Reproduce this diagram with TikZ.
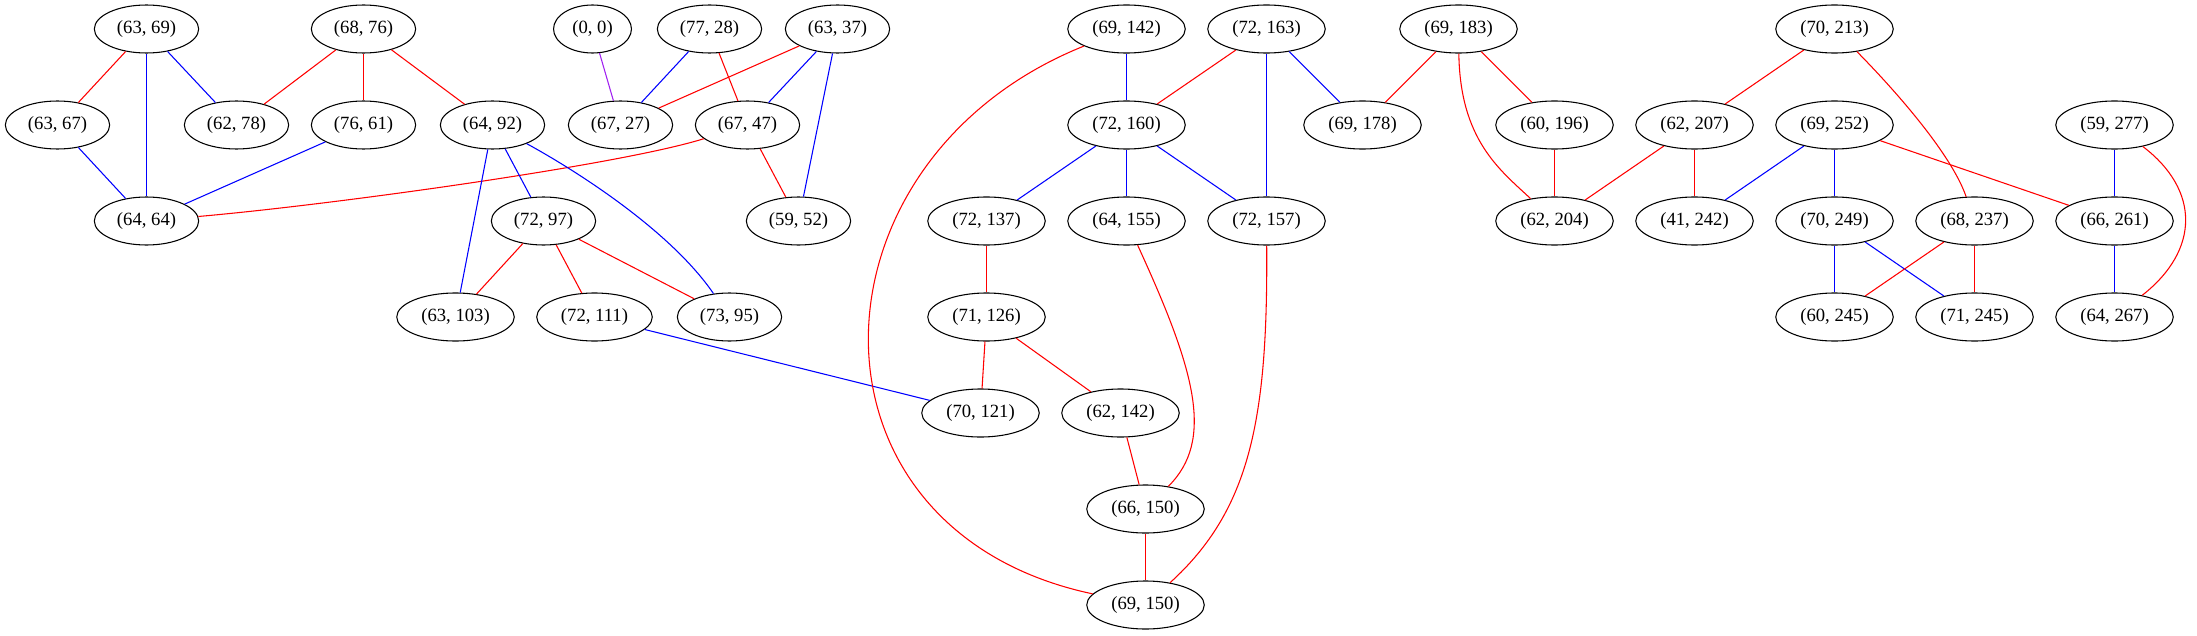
\documentclass[tikz,border=0pt]{standalone}
\usepackage{fontspec}
\setmainfont{Liberation Serif}
\usetikzlibrary{shapes.geometric}
\definecolor{gvpurple}{HTML}{A020F0}

\begin{document}
\begin{tikzpicture}[x=0.75pt,y=-0.75pt,
    vert/.style={ellipse, draw, line width=0.8pt, minimum height=36pt, inner xsep=5.5pt, font=\fontsize{14}{16}\selectfont},
    redge/.style={line width=0.8pt, red},
    bedge/.style={line width=0.8pt, blue},
    pedge/.style={line width=0.8pt, gvpurple}]
                \useasboundingbox (0,0) rectangle (2197,635);
                \node[vert] (n63x69) at (146.5,29) {(63, 69)};
                \node[vert] (n68x76) at (363.5,29) {(68, 76)};
                \node[vert] (n0x0) at (592.5,29) {(0, 0)};
                \node[vert] (n77x28) at (709.5,29) {(77, 28)};
                \node[vert] (n63x37) at (837.5,29) {(63, 37)};
                \node[vert] (n69x142) at (1126.5,29) {(69, 142)};
                \node[vert] (n72x163) at (1266.5,29) {(72, 163)};
                \node[vert] (n69x183) at (1458.5,29) {(69, 183)};
                \node[vert] (n70x213) at (1834.5,29) {(70, 213)};
                \node[vert] (n63x67) at (57.5,125) {(63, 67)};
                \node[vert] (n62x78) at (236.5,125) {(62, 78)};
                \node[vert] (n76x61) at (363.5,125) {(76, 61)};
                \node[vert] (n64x92) at (492.5,125) {(64, 92)};
                \node[vert] (n67x27) at (620.5,125) {(67, 27)};
                \node[vert] (n67x47) at (747.5,125) {(67, 47)};
                \node[vert] (n72x160) at (1126.5,125) {(72, 160)};
                \node[vert] (n69x178) at (1362.5,125) {(69, 178)};
                \node[vert] (n60x196) at (1554.5,125) {(60, 196)};
                \node[vert] (n62x207) at (1694.5,125) {(62, 207)};
                \node[vert] (n69x252) at (1834.5,125) {(69, 252)};
                \node[vert] (n59x277) at (2114.5,125) {(59, 277)};
                \node[vert] (n64x64) at (146.5,221) {(64, 64)};
                \node[vert] (n72x97) at (543.5,221) {(72, 97)};
                \node[vert] (n59x52) at (798.5,221) {(59, 52)};
                \node[vert] (n72x137) at (986.5,221) {(72, 137)};
                \node[vert] (n64x155) at (1126.5,221) {(64, 155)};
                \node[vert] (n72x157) at (1266.5,221) {(72, 157)};
                \node[vert] (n62x204) at (1554.5,221) {(62, 204)};
                \node[vert] (n41x242) at (1694.5,221) {(41, 242)};
                \node[vert] (n70x249) at (1834.5,221) {(70, 249)};
                \node[vert] (n68x237) at (1974.5,221) {(68, 237)};
                \node[vert] (n66x261) at (2114.5,221) {(66, 261)};
                \node[vert] (n63x103) at (455.5,317) {(63, 103)};
                \node[vert] (n72x111) at (594.5,317) {(72, 111)};
                \node[vert] (n73x95) at (729.5,317) {(73, 95)};
                \node[vert] (n71x126) at (986.5,317) {(71, 126)};
                \node[vert] (n60x245) at (1834.5,317) {(60, 245)};
                \node[vert] (n71x245) at (1974.5,317) {(71, 245)};
                \node[vert] (n64x267) at (2114.5,317) {(64, 267)};
                \node[vert] (n70x121) at (980.5,413) {(70, 121)};
                \node[vert] (n62x142) at (1120.5,413) {(62, 142)};
                \node[vert] (n66x150) at (1145.5,509) {(66, 150)};
                \node[vert] (n69x150) at (1145.5,605) {(69, 150)};
                \draw[redge] (n63x69) -- (n63x67);
                \draw[bedge] (n63x69) -- (n62x78);
                \draw[bedge] (n63x69) -- (n64x64);
                \draw[redge] (n68x76) -- (n62x78);
                \draw[redge] (n68x76) -- (n76x61);
                \draw[redge] (n68x76) -- (n64x92);
                \draw[pedge] (n0x0) -- (n67x27);
                \draw[bedge] (n77x28) -- (n67x27);
                \draw[redge] (n77x28) -- (n67x47);
                \draw[redge] (n63x37) -- (n67x27);
                \draw[bedge] (n63x37) -- (n67x47);
                \draw[bedge] (n63x37) -- (n59x52);
                \draw[bedge] (n63x67) -- (n64x64);
                \draw[bedge] (n76x61) -- (n64x64);
                \draw[redge] (n67x47) .. controls (620,165) and (330,205) .. (n64x64);
                \draw[redge] (n67x47) -- (n59x52);
                \draw[bedge] (n64x92) -- (n72x97);
                \draw[bedge] (n64x92) -- (n63x103);
                \draw[bedge] (n64x92) .. controls (575,170) and (670,230) .. (n73x95);
                \draw[redge] (n72x97) -- (n63x103);
                \draw[redge] (n72x97) -- (n72x111);
                \draw[redge] (n72x97) -- (n73x95);
                \draw[bedge] (n72x111) -- (n70x121);
                \draw[bedge] (n69x142) -- (n72x160);
                \draw[redge] (n69x142) .. controls (800,160) and (790,530) .. (n69x150);
                \draw[redge] (n72x163) -- (n72x160);
                \draw[bedge] (n72x163) -- (n72x157);
                \draw[bedge] (n72x163) -- (n69x178);
                \draw[bedge] (n72x160) -- (n72x137);
                \draw[bedge] (n72x160) -- (n64x155);
                \draw[bedge] (n72x160) -- (n72x157);
                \draw[redge] (n72x137) -- (n71x126);
                \draw[redge] (n71x126) -- (n70x121);
                \draw[redge] (n71x126) -- (n62x142);
                \draw[redge] (n62x142) -- (n66x150);
                \draw[redge] (n64x155) .. controls (1195,370) and (1215,440) .. (n66x150);
                \draw[redge] (n66x150) -- (n69x150);
                \draw[redge] (n72x157) .. controls (1268,420) and (1250,510) .. (n69x150);
                \draw[redge] (n69x183) -- (n69x178);
                \draw[redge] (n69x183) -- (n60x196);
                \draw[redge] (n69x183) .. controls (1460,140) and (1500,170) .. (n62x204);
                \draw[redge] (n60x196) -- (n62x204);
                \draw[redge] (n70x213) -- (n62x207);
                \draw[redge] (n70x213) .. controls (1885,80) and (1950,150) .. (n68x237);
                \draw[redge] (n62x207) -- (n62x204);
                \draw[redge] (n62x207) -- (n41x242);
                \draw[bedge] (n69x252) -- (n41x242);
                \draw[bedge] (n69x252) -- (n70x249);
                \draw[redge] (n69x252) -- (n66x261);
                \draw[bedge] (n70x249) -- (n60x245);
                \draw[bedge] (n70x249) -- (n71x245);
                \draw[redge] (n68x237) -- (n60x245);
                \draw[redge] (n68x237) -- (n71x245);
                \draw[bedge] (n59x277) -- (n66x261);
                \draw[redge] (n59x277) .. controls (2200,190) and (2200,250) .. (n64x267);
                \draw[bedge] (n66x261) -- (n64x267);
            \end{tikzpicture}
\end{document}
